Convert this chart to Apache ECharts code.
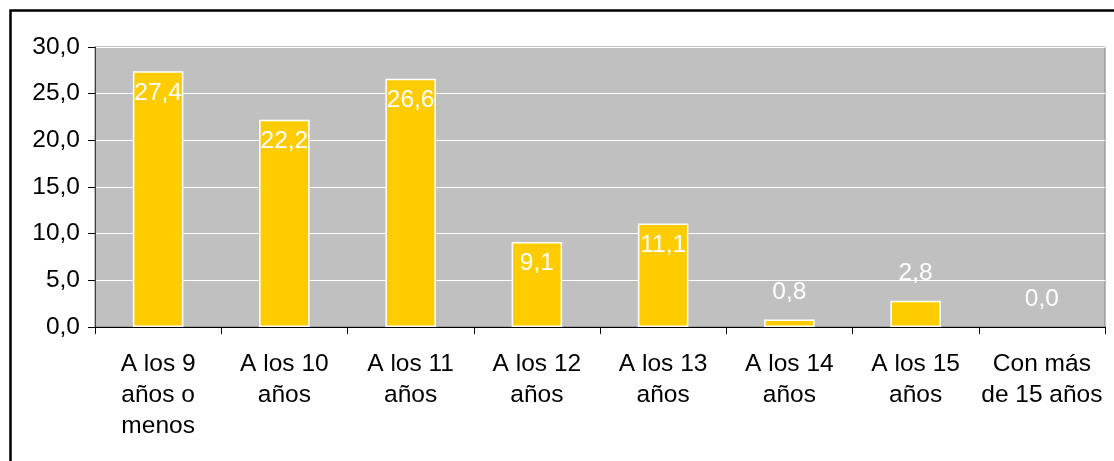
<!DOCTYPE html>
<html>
<head>
<meta charset="utf-8">
<script src="https://cdn.jsdelivr.net/npm/echarts@6/dist/echarts.min.js"></script>
<style>html,body{margin:0;padding:0;background:#fff}#c{width:1114px;height:461px}</style>
</head>
<body>
<div id="c"></div>
<script>
const categories = ["A los 9\naños o\nmenos", "A los 10\naños", "A los 11\naños", "A los 12\naños", "A los 13\naños", "A los 14\naños", "A los 15\naños", "Con más\nde 15 años"];
const values = [27.4, 22.2, 26.6, 9.1, 11.1, 0.8, 2.8, 0.0];
const yTicks = [0, 5, 10, 15, 20, 25, 30];

const fmt = v => v.toFixed(1).replace('.', ',');
const FONT = 'Liberation Sans';
const FS = 24.5;

const chart = echarts.init(document.getElementById('c'), null, {renderer: 'canvas'});
const data = values.map(v => ({
  value: v,
  itemStyle: v === 0 ? {borderWidth: 0, color: 'rgba(0,0,0,0)'} : undefined,
  label: v < 5 ? {position: 'top', distance: 15} : {position: 'insideTop', distance: 9}
}));

chart.setOption({
  animation: false,
  backgroundColor: '#fff',
  graphic: [{
    type: 'rect', left: 8, top: 8, shape: {width: 1200, height: 600},
    style: {fill: 'none', stroke: '#000', lineWidth: 2.5}, z: -1
  }],
  grid: {
    left: 95, right: 9, top: 47, bottom: 134,
    show: true, backgroundColor: '#C0C0C0', borderColor: '#808080', borderWidth: 1
  },
  xAxis: {
    type: 'category', data: categories,
    axisLine: {lineStyle: {color: '#000', width: 1}},
    axisTick: {show: true, length: 7, alignWithLabel: false, lineStyle: {color: '#000'}},
    axisLabel: {color: '#000', fontFamily: FONT, fontSize: FS, lineHeight: 31, margin: 22, interval: 0}
  },
  yAxis: {
    type: 'value', min: yTicks[0], max: yTicks[yTicks.length - 1], interval: 5,
    axisLine: {show: true, lineStyle: {color: '#404040', width: 1}},
    axisTick: {show: true, length: 7, lineStyle: {color: '#000'}},
    splitLine: {show: true, lineStyle: {color: '#fff', width: 1}},
    axisLabel: {color: '#000', fontFamily: FONT, fontSize: FS, margin: 15, formatter: fmt}
  },
  series: [{
    type: 'bar', data: data, barWidth: '40%',
    itemStyle: {color: '#FFCC00', borderColor: '#fff', borderWidth: 1.5},
    label: {show: true, color: '#fff', fontFamily: FONT, fontSize: FS, formatter: p => fmt(p.value)}
  }]
});
</script>
</body>
</html>
